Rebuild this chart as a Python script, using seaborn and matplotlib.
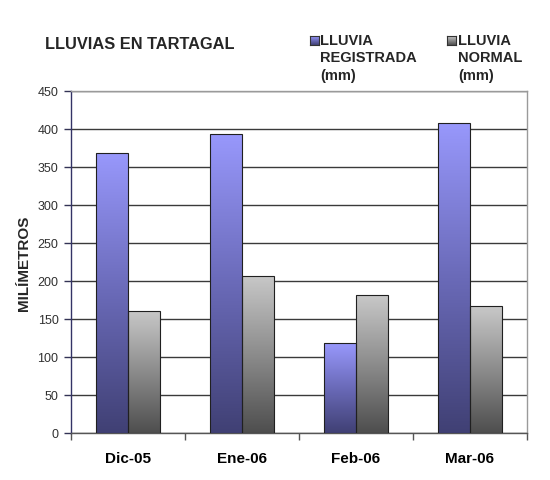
import numpy as np
import pandas as pd
import matplotlib
matplotlib.use("Agg")
import matplotlib.pyplot as plt
from matplotlib.colors import LinearSegmentedColormap
import seaborn as sns

# ---- data ----
months = ["Dic-05", "Ene-06", "Feb-06", "Mar-06"]
lluvia_registrada = [369, 393, 118, 408]
lluvia_normal = [161, 207, 181, 167]
series_names = ["LLUVIA\nREGISTRADA\n(mm)", "LLUVIA\nNORMAL\n(mm)"]
y_ticks = [0, 50, 100, 150, 200, 250, 300, 350, 400, 450]

df = pd.DataFrame({
    "mes": months * 2,
    "mm": lluvia_registrada + lluvia_normal,
    "serie": [series_names[0]] * 4 + [series_names[1]] * 4,
})

sns.set_style("white")
plt.rcParams["font.family"] = ["Liberation Sans", "DejaVu Sans"]

fig = plt.figure(figsize=(5.5, 4.81), dpi=100)
ax = fig.add_axes([71 / 550, 1 - 434 / 481, (527 - 71) / 550, (434 - 92) / 481])

palette = {series_names[0]: "#7272c8", series_names[1]: "#9a9a9a"}
sns.barplot(data=df, x="mes", y="mm", hue="serie", palette=palette,
            width=0.56, gap=0, ax=ax, legend=False, edgecolor="#202020",
            linewidth=0.8, zorder=3)

cmaps = [
    LinearSegmentedColormap.from_list("b", ["#404074", "#6a6ab8", "#9898fc"]),
    LinearSegmentedColormap.from_list("g", ["#4e4e4e", "#8c8c8c", "#c8c8c8"]),
]
grad = np.linspace(0, 1, 256).reshape(-1, 1)
for cont, cm in zip(ax.containers, cmaps):
    for p in cont.patches:
        x, w, h = p.get_x(), p.get_width(), p.get_height()
        im = ax.imshow(grad, extent=[x, x + w, 0, h], origin="lower",
                       aspect="auto", cmap=cm, zorder=2.9, interpolation="bilinear")
        im.set_clip_path(p)
        p.set_facecolor("none")

ax.set_xlim(-0.5, 3.5)
ax.set_ylim(0, 450)
ax.set_yticks(y_ticks)
ax.set_yticklabels([str(t) for t in y_ticks], fontsize=9, color="#303030")
ax.set_xticks(range(len(months)))
ax.set_xticklabels(months, fontsize=11, fontweight="bold", color="black")
ax.set_xticks([-0.5, 0.5, 1.5, 2.5, 3.5], minor=True)
ax.tick_params(axis="x", which="major", length=0, pad=13)
ax.tick_params(axis="x", which="minor", length=5, width=1, color="#555555", direction="out", bottom=True)
ax.tick_params(axis="y", length=5, width=1, color="#333355", direction="out", left=True, pad=4)

ax.set_axisbelow(True)
ax.yaxis.grid(True, color="#3a3a3a", linewidth=1, zorder=0)
ax.xaxis.grid(False)
ax.set_xlabel("")
ax.set_ylabel("MILÍMETROS", fontsize=11, fontweight="bold", labelpad=4.5)
for side, col in [("left", "#333366"), ("bottom", "#555555"), ("top", "#9a9a9a"), ("right", "#9a9a9a")]:
    ax.spines[side].set_visible(True)
    ax.spines[side].set_color(col)
    ax.spines[side].set_linewidth(1)

fig.text(45 / 550, 1 - 45 / 481, "LLUVIAS EN TARTAGAL", fontsize=11.8,
         fontweight="bold", va="center", ha="left")

# legend (manual, handle aligned with first line)
for (sx, tx, name, cm) in [(310, 320, series_names[0], cmaps[0]),
                           (447, 458, series_names[1], cmaps[1])]:
    lax = fig.add_axes([sx / 550, 1 - 45.5 / 481, 9 / 550, 9 / 481])
    lax.imshow(grad, origin="lower", aspect="auto", cmap=cm, extent=[0, 1, 0, 1])
    lax.set_xticks([]); lax.set_yticks([])
    for s in lax.spines.values():
        s.set_color("#333333"); s.set_linewidth(0.8)
    fig.text(tx / 550, 1 - 34 / 481, name, fontsize=10.5, fontweight="bold",
             va="top", ha="left", linespacing=1.3)

fig.savefig("out.png", dpi=100)
